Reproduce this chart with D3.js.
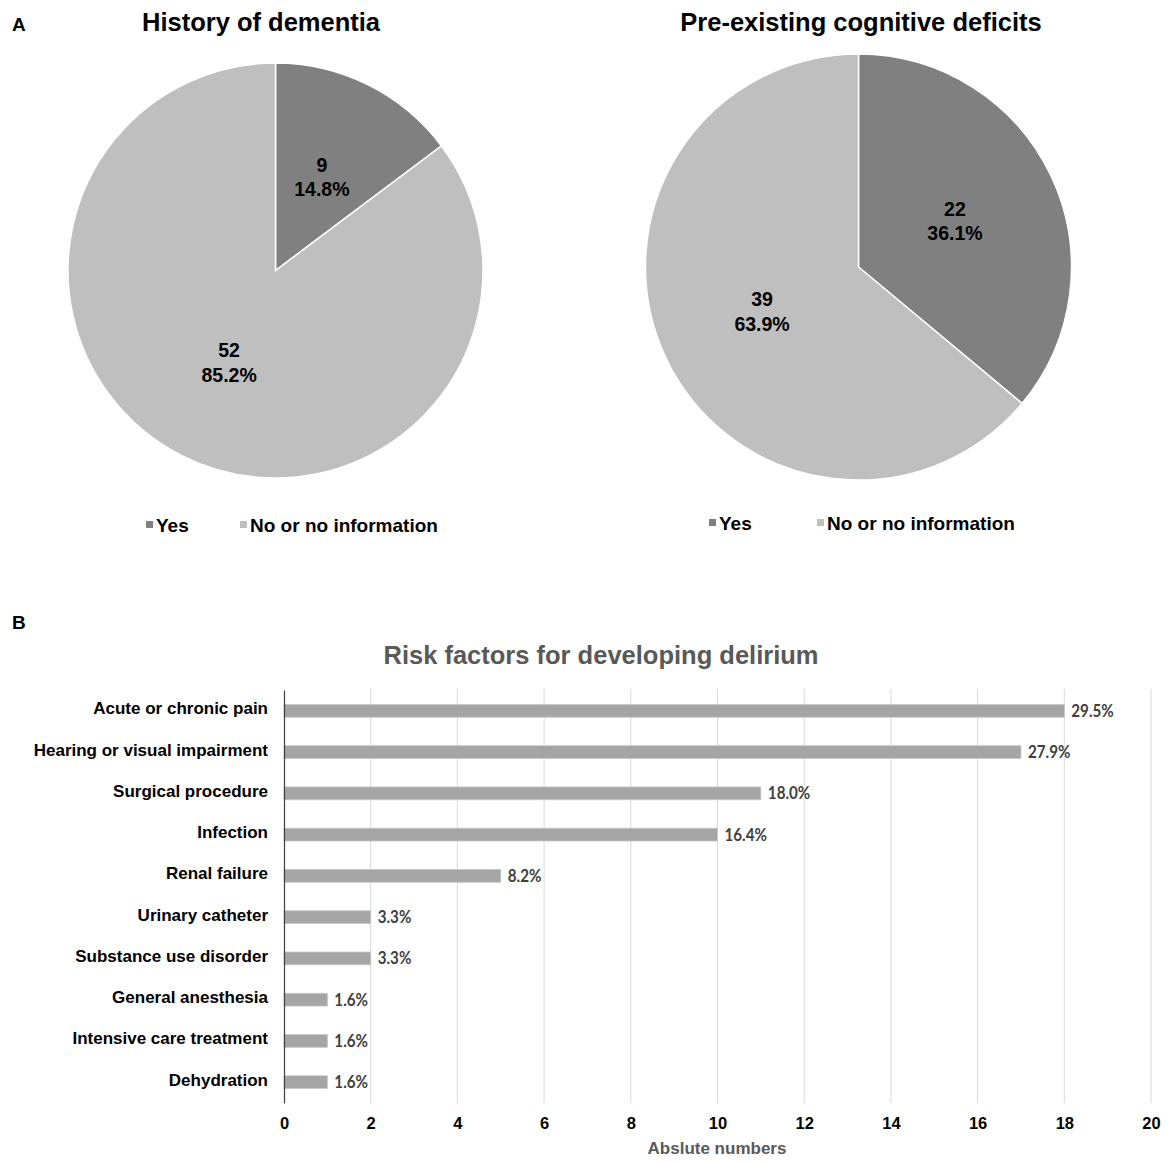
<!DOCTYPE html>
<html>
<head>
    <meta charset="utf-8">
    <title>Dementia, cognitive deficits and delirium risk factors</title>
    <style>
        body {
            margin: 0;
            background: #fff;
            font-family: "Liberation Sans", Arial, sans-serif;
        }
        svg text {
            font-weight: bold;
        }
    </style>
</head>
<body>
    <script src="https://d3js.org/d3.v7.min.js"></script>
    <script>
        var width = 1169;
        var height = 1162;

        // Panel A data
        var pieCategories = ["Yes", "No or no information"];
        var dementiaCounts = [9, 52];
        var dementiaPercents = ["14.8%", "85.2%"];
        var cognitiveCounts = [22, 39];
        var cognitivePercents = ["36.1%", "63.9%"];

        // Panel B data
        var riskFactors = ["Acute or chronic pain", "Hearing or visual impairment", "Surgical procedure",
            "Infection", "Renal failure", "Urinary catheter", "Substance use disorder",
            "General anesthesia", "Intensive care treatment", "Dehydration"];
        var riskCounts = [18, 17, 11, 10, 5, 2, 2, 1, 1, 1];
        var riskPercents = ["29.5%", "27.9%", "18.0%", "16.4%", "8.2%", "3.3%", "3.3%", "1.6%", "1.6%", "1.6%"];
        var xTicks = [0, 2, 4, 6, 8, 10, 12, 14, 16, 18, 20];

        var pieColors = ["#808080", "#bfbfbf"];

        var svg = d3.select("body").append("svg")
            .attr("width", width)
            .attr("height", height);

        // panel letters
        svg.append("text").attr("x", 12).attr("y", 31).attr("font-size", 19).text("A");
        svg.append("text").attr("x", 12).attr("y", 629).attr("font-size", 19).text("B");

        // Draw one pie with title, labels and legend
        function drawPie(opt) {
            var g = svg.append("g");
            g.append("text")
                .attr("x", opt.titleX).attr("y", 31)
                .attr("text-anchor", "middle")
                .attr("font-size", 25.5)
                .attr("fill", "#000")
                .text(opt.title);

            var pie = d3.pie().sort(null).value(d => d);
            var arcs = pie(opt.counts);
            var arc = d3.arc().innerRadius(0).outerRadius(opt.r);

            var pg = g.append("g").attr("transform", "translate(" + opt.cx + "," + opt.cy + ")");
            pg.selectAll("path")
                .data(arcs)
                .enter().append("path")
                .attr("d", arc)
                .attr("fill", (d, i) => pieColors[i])
                .attr("stroke", "#fff")
                .attr("stroke-width", 1.5);

            // labels sit halfway out along each slice
            var labelArc = d3.arc().innerRadius(opt.r * 0.5).outerRadius(opt.r * 0.5);
            pg.selectAll("text.lab")
                .data(arcs)
                .enter().append("text")
                .attr("class", "lab")
                .attr("text-anchor", "middle")
                .attr("font-size", 19.5)
                .attr("transform", d => "translate(" + labelArc.centroid(d) + ")")
                .each(function(d, i) {
                    var t = d3.select(this);
                    t.append("tspan").attr("x", 0).attr("dy", "-0.3em").text(opt.counts[i]);
                    t.append("tspan").attr("x", 0).attr("dy", "1.25em").text(opt.percents[i]);
                });

            // legend
            var lg = g.append("g");
            pieCategories.forEach(function(c, i) {
                lg.append("rect")
                    .attr("x", opt.legendX[i]).attr("y", opt.legendY - 11)
                    .attr("width", 7).attr("height", 7)
                    .attr("fill", pieColors[i]);
                lg.append("text")
                    .attr("x", opt.legendX[i] + 10).attr("y", opt.legendY)
                    .attr("font-size", 19)
                    .text(c);
            });
        }

        drawPie({
            title: "History of dementia", titleX: 261,
            counts: dementiaCounts, percents: dementiaPercents,
            cx: 275.5, cy: 270.5, r: 207.5,
            legendX: [146, 240], legendY: 532
        });

        drawPie({
            title: "Pre-existing cognitive deficits", titleX: 861,
            counts: cognitiveCounts, percents: cognitivePercents,
            cx: 858.5, cy: 267, r: 213,
            legendX: [709, 817], legendY: 530
        });

        // Panel B: horizontal bar chart
        var x = d3.scaleLinear().domain([0, 20]).range([284, 1151]);
        var y = d3.scaleBand().domain(riskFactors).range([690, 1103]).paddingInner(0.69).paddingOuter(0.35);

        svg.append("text")
            .attr("x", 601).attr("y", 664)
            .attr("text-anchor", "middle")
            .attr("font-size", 25.5)
            .attr("fill", "#595959")
            .text("Risk factors for developing delirium");

        // gridlines
        svg.append("g")
            .selectAll("line")
            .data(xTicks.slice(1))
            .enter().append("line")
            .attr("x1", d => x(d)).attr("x2", d => x(d))
            .attr("y1", 689).attr("y2", 1103)
            .attr("stroke", "#d9d9d9")
            .attr("stroke-width", 1);

        // bars
        var rows = riskFactors.map((f, i) => ({ name: f, count: riskCounts[i], pct: riskPercents[i] }));
        svg.append("g")
            .selectAll("rect")
            .data(rows)
            .enter().append("rect")
            .attr("x", x(0))
            .attr("y", d => y(d.name))
            .attr("width", d => x(d.count) - x(0))
            .attr("height", y.bandwidth())
            .attr("fill", "#a5a5a5")
            .attr("stroke", "#c8c8c8")
            .attr("stroke-width", 0.8);

        // value labels (narrowed a little to look like the original's font)
        svg.append("g")
            .selectAll("text")
            .data(rows)
            .enter().append("text")
            .attr("transform", d => "translate(" + (x(d.count) + 7) + "," + (y(d.name) + y.bandwidth() / 2 + 6) + ") scale(0.92,1)")
            .attr("font-family", "Lato, 'Open Sans', sans-serif")
            .attr("font-size", 16.5)
            .attr("fill", "#404040")
            .text(d => d.pct);

        // y axis
        var yAxis = d3.axisLeft(y).tickSize(0).tickPadding(16);
        var yg = svg.append("g").attr("transform", "translate(284,0)").call(yAxis);
        yg.select(".domain").attr("stroke", "#404040").attr("stroke-width", 1.2);
        yg.selectAll("text")
            .attr("font-family", "'Liberation Sans', Arial, sans-serif")
            .attr("font-size", 17)
            .attr("fill", "#000")
            .attr("dy", "0.2em");

        // x axis
        var xAxis = d3.axisBottom(x).tickValues(xTicks).tickSize(0).tickPadding(14);
        var xg = svg.append("g").attr("transform", "translate(0,1103)").call(xAxis);
        xg.select(".domain").remove();
        xg.selectAll("text")
            .attr("font-family", "'Liberation Sans', Arial, sans-serif")
            .attr("font-size", 16.5)
            .attr("fill", "#000");

        svg.append("text")
            .attr("x", 717).attr("y", 1154)
            .attr("text-anchor", "middle")
            .attr("font-size", 17)
            .attr("fill", "#595959")
            .text("Abslute numbers");
    </script>
</body>
</html>
